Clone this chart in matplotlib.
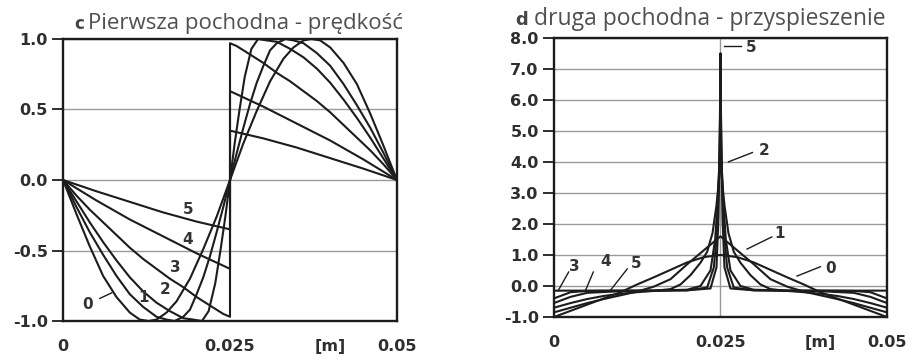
import matplotlib
matplotlib.use("Agg")
import matplotlib.pyplot as plt

# ---- panel c : first derivative (velocity), curves 0..5 ----
vel_x0 = [0, 0.002, 0.004, 0.006, 0.008, 0.010, 0.0115, 0.0128, 0.014, 0.0155, 0.017, 0.019, 0.021, 0.023, 0.025,
          0.027, 0.029, 0.031, 0.033, 0.0345, 0.036, 0.0372, 0.0385, 0.040, 0.042, 0.044, 0.046, 0.048, 0.050]
vel_y0 = [0, -0.24, -0.47, -0.68, -0.83, -0.94, -0.99, -1.0, -0.99, -0.94, -0.86, -0.70, -0.49, -0.26, 0.0,
          0.26, 0.49, 0.70, 0.86, 0.94, 0.99, 1.0, 0.99, 0.94, 0.83, 0.68, 0.47, 0.24, 0.0]

vel_x1 = [0, 0.002, 0.004, 0.006, 0.008, 0.010, 0.012, 0.014, 0.0155, 0.0167, 0.018, 0.019, 0.020, 0.021, 0.022,
          0.023, 0.024, 0.025, 0.026, 0.027, 0.028, 0.029, 0.030, 0.031, 0.032, 0.0333, 0.0345, 0.036, 0.038,
          0.040, 0.042, 0.044, 0.046, 0.048, 0.050]
vel_y1 = [0, -0.19, -0.37, -0.53, -0.68, -0.81, -0.90, -0.97, -0.99, -1.0, -0.97, -0.92, -0.81, -0.69, -0.54,
          -0.37, -0.19, 0.0, 0.19, 0.37, 0.54, 0.69, 0.81, 0.92, 0.97, 1.0, 0.99, 0.97, 0.90,
          0.81, 0.68, 0.53, 0.37, 0.19, 0.0]

vel_x2 = [0, 0.002, 0.004, 0.006, 0.008, 0.010, 0.012, 0.014, 0.016, 0.018, 0.0195, 0.0208, 0.0218, 0.0228,
          0.0236, 0.0243, 0.025, 0.0257, 0.0264, 0.0272, 0.0282, 0.0292, 0.0305, 0.032, 0.034, 0.036, 0.038,
          0.040, 0.042, 0.044, 0.046, 0.048, 0.050]
vel_y2 = [0, -0.15, -0.30, -0.44, -0.57, -0.69, -0.79, -0.87, -0.93, -0.98, -0.99, -1.0, -0.93, -0.73,
          -0.49, -0.26, 0.0, 0.26, 0.49, 0.73, 0.93, 1.0, 0.99, 0.98, 0.93, 0.87, 0.79,
          0.69, 0.57, 0.44, 0.30, 0.15, 0.0]

vel_x3 = [0, 0.002, 0.004, 0.006, 0.008, 0.010, 0.012, 0.014, 0.016, 0.018, 0.020, 0.022, 0.024, 0.025,
          0.025, 0.026, 0.028, 0.030, 0.032, 0.034, 0.036, 0.038, 0.040, 0.042, 0.044, 0.046, 0.048, 0.050]
vel_y3 = [0, -0.11, -0.21, -0.30, -0.39, -0.48, -0.56, -0.63, -0.70, -0.76, -0.83, -0.89, -0.95, -0.97,
          0.97, 0.95, 0.89, 0.83, 0.76, 0.70, 0.63, 0.56, 0.48, 0.39, 0.30, 0.21, 0.11, 0.0]

vel_x4 = [0, 0.005, 0.010, 0.015, 0.020, 0.025, 0.025, 0.030, 0.035, 0.040, 0.045, 0.050]
vel_y4 = [0, -0.145, -0.28, -0.40, -0.52, -0.63, 0.63, 0.52, 0.40, 0.28, 0.145, 0.0]

vel_x5 = [0, 0.005, 0.010, 0.015, 0.020, 0.025, 0.025, 0.030, 0.035, 0.040, 0.045, 0.050]
vel_y5 = [0, -0.08, -0.155, -0.23, -0.295, -0.35, 0.35, 0.295, 0.23, 0.155, 0.08, 0.0]

# ---- panel d : second derivative (acceleration), curves 0..5 ----
acc_x0 = [0, 0.0025, 0.005, 0.0075, 0.010, 0.0125, 0.015, 0.0175, 0.020, 0.0225, 0.025,
          0.0275, 0.030, 0.0325, 0.035, 0.0375, 0.040, 0.0425, 0.045, 0.0475, 0.050]
acc_y0 = [-1.0, -0.8, -0.6, -0.4, -0.2, 0.05, 0.28, 0.52, 0.76, 0.93, 1.0,
          0.93, 0.76, 0.52, 0.28, 0.05, -0.2, -0.4, -0.6, -0.8, -1.0]

acc_x1 = [0, 0.0025, 0.005, 0.0075, 0.010, 0.0125, 0.015, 0.0175, 0.020, 0.0225, 0.025,
          0.0275, 0.030, 0.0325, 0.035, 0.0375, 0.040, 0.0425, 0.045, 0.0475, 0.050]
acc_y1 = [-0.85, -0.7, -0.55, -0.42, -0.3, -0.18, -0.02, 0.22, 0.7, 1.15, 1.6,
          1.15, 0.7, 0.22, -0.02, -0.18, -0.3, -0.42, -0.55, -0.7, -0.85]

acc_x2 = [0, 0.0025, 0.005, 0.0075, 0.010, 0.0125, 0.015, 0.0175, 0.019, 0.0205, 0.022, 0.023, 0.0238,
          0.0244, 0.0248, 0.025, 0.0252, 0.0256, 0.0262, 0.027, 0.028, 0.0295, 0.031, 0.0325, 0.035,
          0.0375, 0.040, 0.0425, 0.045, 0.0475, 0.050]
acc_y2 = [-0.7, -0.55, -0.42, -0.32, -0.25, -0.2, -0.16, -0.1, 0.05, 0.35, 0.75, 1.1, 1.7,
          2.6, 3.5, 4.2, 3.5, 2.6, 1.7, 1.1, 0.75, 0.35, 0.05, -0.1, -0.16,
          -0.2, -0.25, -0.32, -0.42, -0.55, -0.7]

acc_x3 = [0, 0.0025, 0.005, 0.010, 0.015, 0.020, 0.022, 0.0235, 0.0242, 0.0246, 0.0249, 0.025,
          0.0251, 0.0254, 0.0258, 0.0265, 0.028, 0.030, 0.035, 0.040, 0.045, 0.0475, 0.050]
acc_y3 = [-0.55, -0.35, -0.22, -0.17, -0.15, -0.12, 0.0, 0.5, 1.5, 2.8, 4.3, 5.2,
          4.3, 2.8, 1.5, 0.5, 0.0, -0.12, -0.15, -0.17, -0.22, -0.35, -0.55]

acc_x4 = [0, 0.0025, 0.005, 0.010, 0.015, 0.020, 0.023, 0.024, 0.0245, 0.0248, 0.025,
          0.0252, 0.0255, 0.026, 0.027, 0.030, 0.035, 0.040, 0.045, 0.0475, 0.050]
acc_y4 = [-0.4, -0.2, -0.16, -0.15, -0.15, -0.14, -0.05, 0.6, 1.8, 3.8, 6.3,
          3.8, 1.8, 0.6, -0.05, -0.14, -0.15, -0.15, -0.16, -0.2, -0.4]

acc_x5 = [0, 0.005, 0.010, 0.015, 0.020, 0.0235, 0.0244, 0.0247, 0.0249, 0.025,
          0.0251, 0.0253, 0.0256, 0.0265, 0.030, 0.035, 0.040, 0.045, 0.050]
acc_y5 = [-0.15, -0.15, -0.15, -0.15, -0.14, -0.08, 0.6, 2.2, 5.0, 7.5,
          5.0, 2.2, 0.6, -0.08, -0.14, -0.15, -0.15, -0.15, -0.15]

x_ticks = [0, 0.025, 0.04, 0.05]
x_ticklabels = ["0", "0.025", "[m]", "0.05"]
vel_yticks = [-1.0, -0.5, 0.0, 0.5, 1.0]
acc_yticks = [-1.0, 0.0, 1.0, 2.0, 3.0, 4.0, 5.0, 6.0, 7.0, 8.0]

INK = "#1c1c1c"
GRID = "#9a9a9a"


def style_axes(ax, yticks, ylim):
    ax.set_xlim(0, 0.05)
    ax.set_ylim(*ylim)
    for y in yticks:
        ax.axhline(y, color=GRID, lw=1.0, zorder=0)
    ax.set_yticks(yticks)
    ax.set_yticklabels(["%.1f" % y for y in yticks])
    ax.set_xticks(x_ticks)
    ax.set_xticklabels(x_ticklabels)
    ax.tick_params(axis="y", length=8, width=1.3, pad=3, colors=INK, labelsize=11.5)
    ax.tick_params(axis="x", length=0, pad=13, colors=INK, labelsize=11.5)
    for lab in ax.get_xticklabels() + ax.get_yticklabels():
        lab.set_fontweight("bold")
        lab.set_color("#2e2e2e")
    for sp in ax.spines.values():
        sp.set_linewidth(1.7)
        sp.set_color(INK)


fig = plt.figure(figsize=(9.16, 3.57), dpi=100)

# panel c
ax1 = fig.add_axes([0.0688, 0.1008, 0.3646, 0.79])
for xs, ys in [(vel_x0, vel_y0), (vel_x1, vel_y1), (vel_x2, vel_y2),
               (vel_x3, vel_y3), (vel_x4, vel_y4), (vel_x5, vel_y5)]:
    ax1.plot(xs, ys, color=INK, lw=1.5)
style_axes(ax1, vel_yticks, (-1.0, 1.0))
lab_kw = dict(fontsize=11, fontweight="bold", color="#333333", ha="center", va="center")
ax1.text(0.0187, -0.21, "5", **lab_kw)
ax1.text(0.0187, -0.42, "4", **lab_kw)
ax1.text(0.0168, -0.62, "3", **lab_kw)
ax1.text(0.0153, -0.78, "2", **lab_kw)
ax1.text(0.0120, -0.83, "1", **lab_kw)
ax1.text(0.0037, -0.88, "0", **lab_kw)
ax1.plot([0.0055, 0.0073], [-0.84, -0.80], color=INK, lw=1.0)

# panel d
ax2 = fig.add_axes([0.6048, 0.1120, 0.3635, 0.7824])
ax2.axvline(0.025, color=GRID, lw=1.0, zorder=0)
for xs, ys in [(acc_x0, acc_y0), (acc_x1, acc_y1), (acc_x2, acc_y2),
               (acc_x3, acc_y3), (acc_x4, acc_y4), (acc_x5, acc_y5)]:
    ax2.plot(xs, ys, color=INK, lw=1.5)
style_axes(ax2, acc_yticks, (-1.0, 8.0))
ax2.text(0.0296, 7.7, "5", **lab_kw)
ax2.plot([0.0256, 0.0281], [7.72, 7.72], color=INK, lw=1.0)
ax2.text(0.0316, 4.35, "2", **lab_kw)
ax2.plot([0.0262, 0.0298], [4.0, 4.3], color=INK, lw=1.0)
ax2.text(0.0338, 1.68, "1", **lab_kw)
ax2.plot([0.029, 0.0327], [1.19, 1.58], color=INK, lw=1.0)
ax2.text(0.0416, 0.55, "0", **lab_kw)
ax2.plot([0.0365, 0.0400], [0.32, 0.62], color=INK, lw=1.0)
ax2.text(0.0031, 0.62, "3", **lab_kw)
ax2.plot([0.0006, 0.0022], [-0.16, 0.45], color=INK, lw=1.0)
ax2.text(0.0078, 0.78, "4", **lab_kw)
ax2.plot([0.0047, 0.0059], [-0.16, 0.45], color=INK, lw=1.0)
ax2.text(0.0124, 0.72, "5", **lab_kw)
ax2.plot([0.0084, 0.0110], [-0.16, 0.55], color=INK, lw=1.0)

# titles
fig.text(0.081, 0.918, "c", fontsize=12, fontweight="bold", color="#444444", va="baseline")
fig.text(0.096, 0.918, "Pierwsza pochodna - prędkość", fontsize=16, color="#505050",
         family="Open Sans", va="baseline")
fig.text(0.562, 0.930, "d", fontsize=13, fontweight="bold", color="#444444", va="baseline")
fig.text(0.583, 0.930, "druga pochodna - przyspieszenie", fontsize=16.5, color="#505050",
         family="Open Sans", va="baseline")

fig.savefig("out.png", dpi=100)
